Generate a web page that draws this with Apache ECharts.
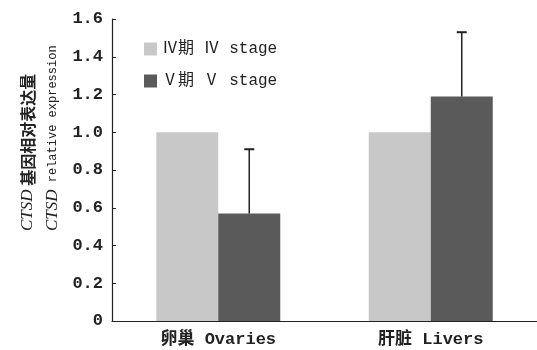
<!DOCTYPE html>
<html>
<head>
<meta charset="utf-8">
<script src="https://cdn.jsdelivr.net/npm/echarts@6/dist/echarts.min.js"></script>
<style>
  html, body { margin: 0; padding: 0; background: #fff; }
  #chart { width: 537px; height: 350px; }
</style>
</head>
<body>
<div id="chart"></div>
<script>
// Tissue groups on the x axis
const categories = ['卵巢 Ovaries', '肝脏 Livers'];
// Relative CTSD expression per stage
const stageIV = [1.0, 1.0];
const stageV = [0.57, 1.19];
// Upper error (SD) for stage V
const stageVErr = [0.34, 0.34];
const yTicks = [0, 0.2, 0.4, 0.6, 0.8, 1.0, 1.2, 1.4, 1.6];

const FONT = '"Liberation Mono", "Noto Sans CJK SC", monospace';
const BAR_W = 62;

const chart = echarts.init(document.getElementById('chart'), null, { renderer: 'canvas' });

chart.setOption({
  animation: false,
  textStyle: { fontFamily: FONT },
  grid: { left: 112, width: 430, top: 19, bottom: 29 },
  legend: {
    left: 139, top: 36, orient: 'vertical',
    itemWidth: 13, itemHeight: 13, itemGap: 16,
    icon: 'rect',
    textStyle: { fontFamily: FONT, fontSize: 16, color: '#222' },
    data: ['Ⅳ期 Ⅳ stage', 'Ⅴ期 Ⅴ stage']
  },
  xAxis: {
    type: 'category',
    data: categories,
    axisLine: { lineStyle: { color: '#222', width: 1.2 } },
    axisTick: { show: false },
    axisLabel: { fontFamily: FONT, fontSize: 17, fontWeight: 'bold', color: '#222', margin: 10 }
  },
  yAxis: {
    type: 'value',
    min: yTicks[0], max: yTicks[yTicks.length - 1], interval: 0.2,
    axisLine: { show: true, lineStyle: { color: '#222', width: 1.2 } },
    axisTick: { show: true, inside: true, length: 4, lineStyle: { color: '#222' } },
    splitLine: { show: false },
    axisLabel: {
      fontFamily: FONT, fontSize: 17, fontWeight: 'bold', color: '#222', margin: 9,
      formatter: v => (v === 0 ? '0' : v.toFixed(1))
    }
  },
  graphic: [
    {
      type: 'text', x: 28, y: 231, rotation: Math.PI / 2,
      style: {
        text: '{i|CTSD}{c| 基因相对表达量}',
        textAlign: 'left', textVerticalAlign: 'middle',
        rich: {
          i: { fontFamily: '"Liberation Serif", serif', fontStyle: 'italic', fontSize: 17, fill: '#222' },
          c: { fontFamily: '"Noto Sans CJK SC"', fontSize: 16, fontWeight: 'bold', fill: '#222' }
        }
      }
    },
    {
      type: 'text', x: 53, y: 231, rotation: Math.PI / 2,
      style: {
        text: '{i|CTSD}{m| relative expression}',
        textAlign: 'left', textVerticalAlign: 'middle',
        rich: {
          i: { fontFamily: '"Liberation Serif", serif', fontStyle: 'italic', fontSize: 17, fill: '#222' },
          m: { fontFamily: FONT, fontSize: 12, fill: '#222' }
        }
      }
    }
  ],
  series: [
    {
      name: 'Ⅳ期 Ⅳ stage', type: 'bar', data: stageIV,
      barWidth: BAR_W, barGap: '0%',
      itemStyle: { color: '#c8c8c8' }
    },
    {
      name: 'Ⅴ期 Ⅴ stage', type: 'bar', data: stageV,
      barWidth: BAR_W, barGap: '0%',
      itemStyle: { color: '#5a5a5a' }
    },
    {
      type: 'custom',
      data: stageV.map((v, i) => [i, v, v + stageVErr[i]]),
      z: 10,
      renderItem: (params, api) => {
        const base = api.coord([api.value(0), api.value(1)]);
        const top = api.coord([api.value(0), api.value(2)]);
        const x = base[0] + BAR_W / 2;
        const style = { stroke: '#222', lineWidth: 1.5 };
        return {
          type: 'group',
          children: [
            { type: 'line', shape: { x1: x, y1: base[1], x2: x, y2: top[1] }, style },
            { type: 'line', shape: { x1: x - 5, y1: top[1], x2: x + 5, y2: top[1] }, style: { stroke: '#222', lineWidth: 2 } }
          ]
        };
      }
    }
  ]
});
</script>
</body>
</html>
